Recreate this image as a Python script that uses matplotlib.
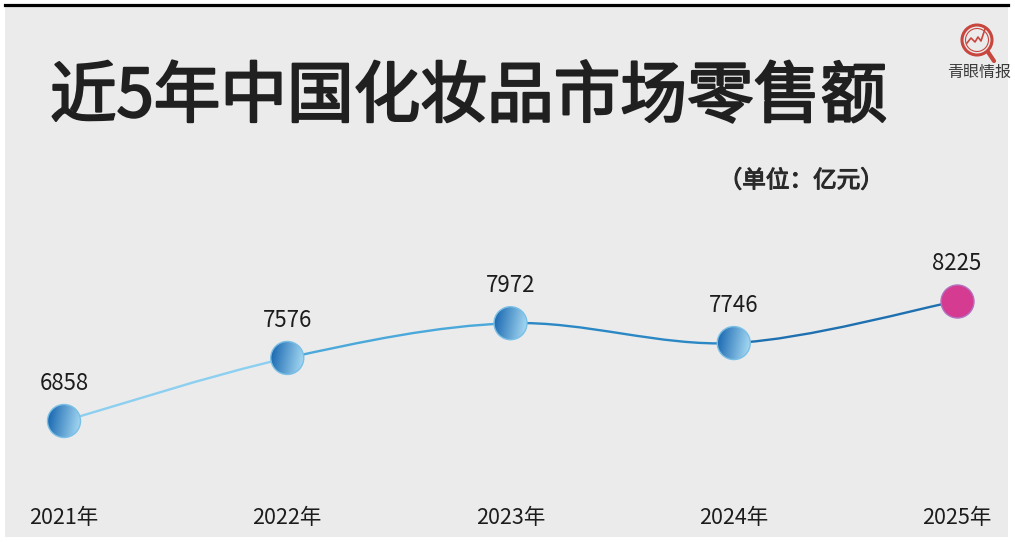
import numpy as np
import matplotlib
matplotlib.use("Agg")
import matplotlib.pyplot as plt
import matplotlib.patheffects as pe
from matplotlib.path import Path
from matplotlib.patches import PathPatch, Circle, Rectangle
from matplotlib.lines import Line2D
from matplotlib.transforms import Affine2D, ScaledTranslation
from matplotlib.colors import to_rgb

plt.rcParams['font.family'] = ['Noto Sans CJK SC', 'DejaVu Sans']

# data
years = [2021, 2022, 2023, 2024, 2025]
year_labels = ["2021年", "2022年", "2023年", "2024年", "2025年"]
sales = [6858, 7576, 7972, 7746, 8225]
title = "近5年中国化妆品市场零售额"
unit_text = "（单位：亿元）"
logo_text = "青眼情报"

W, H = 1015, 542
fig = plt.figure(figsize=(W / 100, H / 100), dpi=100)
fig.patch.set_facecolor("white")

# paper background + top rule
fig.add_artist(Rectangle((5 / W, 5 / H), 1003 / W, 531 / H, transform=fig.transFigure,
                         facecolor="#ebebeb", edgecolor="none", zorder=0))
fig.add_artist(Line2D([5 / W, 1008 / W], [1 - 4.5 / H, 1 - 4.5 / H], transform=fig.transFigure,
                      color="black", lw=2.3, zorder=1))

ax = fig.add_axes([0, 0, 1, 1])
ax.set_facecolor("none")
ax.axis("off")

xs = np.arange(len(years))
pts = np.column_stack([xs, np.array(sales, dtype=float)])
n = len(pts)

# smooth line, one bezier piece per year, getting darker to the right
seg_colors = ["#8ccff0", "#4aa8da", "#2b88c5", "#1e70b0"]
k = 1 / 6
for i in range(n - 1):
    p0 = pts[max(i - 1, 0)]
    p1 = pts[i]
    p2 = pts[i + 1]
    p3 = pts[min(i + 2, n - 1)]
    c1 = p1 + (p2 - p0) * k
    c2 = p2 - (p3 - p1) * k
    path = Path([p1, c1, c2, p2], [Path.MOVETO, Path.CURVE4, Path.CURVE4, Path.CURVE4])
    ax.add_patch(PathPatch(path, facecolor="none", edgecolor=seg_colors[i], lw=1.7,
                           capstyle="round", zorder=2))

# blue "sphere" markers with a left->right gradient
g = np.linspace(0, 1, 64)
gx, gy = np.meshgrid(g, g)
t = np.clip(0.85 * gx + 0.15 * (1 - gy), 0, 1)
c_dark = np.array(to_rgb("#1262ad"))
c_light = np.array(to_rgb("#aee0f7"))
grad = c_dark + (c_light - c_dark) * t[..., None]

r = 16.5
for i in range(n - 1):
    tr = Affine2D().scale(r) + ScaledTranslation(xs[i], sales[i], ax.transData)
    circ = Circle((0, 0), 1, transform=tr, facecolor="none", edgecolor="#79bfe6",
                  lw=1.0, zorder=4)
    im = ax.imshow(grad, extent=(-1, 1, -1, 1), transform=tr, zorder=3,
                   interpolation="bilinear", origin="lower")
    im.set_clip_path(circ)
    ax.add_patch(circ)

# last year highlighted
ax.scatter(xs[-1], sales[-1], s=(2 * r * 0.72) ** 2, color="#d43b91",
           edgecolors="#b272c0", linewidths=1.0, zorder=4)

for x, v in zip(xs, sales):
    ax.annotate(f"{v}", (x, v), xytext=(0, 27), textcoords="offset points",
                ha="center", va="center", fontsize=16, color="#1c1c1c", zorder=5)

for x, lab in zip(xs, year_labels):
    ax.text(x, (H - 518) / H, lab, transform=ax.get_xaxis_transform(),
            ha="center", va="center", fontsize=15.5, color="#1c1c1c")

# map data so the points land where they are in the reference
px_per_x = (957 - 64) / 4
ax.set_xlim(-64 / px_per_x, 4 + (W - 957) / px_per_x)
u_per_px = (sales[-1] - sales[0]) / (421 - 301)
ax.set_ylim(sales[0] - (H - 421) * u_per_px, sales[-1] + 301 * u_per_px)
ax.set_aspect("auto")

# titles (regular weight thickened a little with a stroke)
fig.text(50 / W, 1 - 98 / H, title, ha="left", va="center", fontsize=48,
         color="#202020", path_effects=[pe.withStroke(linewidth=1.6, foreground="#202020")])
fig.text(884 / W, 1 - 181 / H, unit_text, ha="right", va="center", fontsize=17,
         color="#2a2a2a", path_effects=[pe.withStroke(linewidth=0.8, foreground="#2a2a2a")])

# logo, drawn in pixel coordinates from the top-left corner
pix = Affine2D().scale(1, -1).translate(0, H)
red = "#c9463f"
fig.add_artist(Circle((977, 40), 15, transform=pix, facecolor="none", edgecolor=red, lw=2.2))
fig.add_artist(Circle((977, 40), 11.5, transform=pix, facecolor="none", edgecolor=red, lw=0.8))
fig.add_artist(Line2D([988, 994], [52, 61], transform=pix, color=red, lw=3.0,
                      solid_capstyle="round"))
fig.add_artist(Line2D([967, 971, 975, 978, 981, 985], [43, 38, 42, 37, 41, 29],
                      transform=pix, color=red, lw=1.2))
fig.text(979 / W, 1 - 72 / H, logo_text, ha="center", va="center", fontsize=11.5,
         color="#3a3a3a")

fig.savefig("out.png", dpi=100)
